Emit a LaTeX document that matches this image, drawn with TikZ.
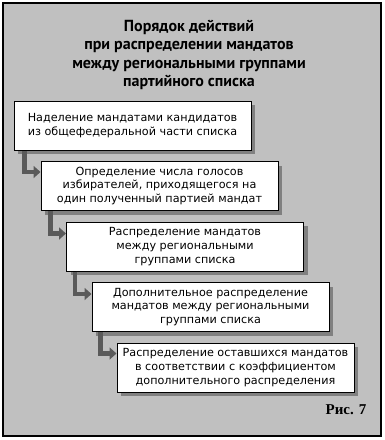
\documentclass[tikz,border=0pt]{standalone}
\usepackage{fontspec}
\setmainfont{DejaVu Sans}
\newfontfamily\titlefont{PT Sans}
\newfontfamily\figfont{Liberation Serif}
\usetikzlibrary{arrows.meta, shadows}
\definecolor{panelgray}{RGB}{192, 192, 192}
\definecolor{shadowgray}{RGB}{128, 128, 128}
\definecolor{arrowgray}{RGB}{90, 90, 90}

\begin{document}
\begin{tikzpicture}[
        x=1pt, y=-1pt,
        every node/.style={font=\fontsize{11.2}{13.8}\selectfont},
        stepbox/.style={draw, line width=1pt, fill=white, minimum width=237pt, minimum height=49pt,
            inner sep=0pt, align=center,
            drop shadow={shadow xshift=4pt, shadow yshift=-4pt, fill=shadowgray, opacity=1}},
        flow/.style={draw=arrowgray, line width=4.5pt, -{Triangle[length=7pt, width=12pt]}}
    ]
        \useasboundingbox (0,0) rectangle (384,440);
        \draw[line width=1.5pt, fill=panelgray] (3,3) rectangle (381,436);

        % title
        \node[align=center, font=\fontsize{16}{18.5}\titlefont\bfseries] (title) at (189,55)
            {Порядок действий\\при распределении мандатов\\между региональными группами\\партийного списка};

        % steps
        \node[stepbox] (s1) at (132.5,125.5) {Наделение мандатами кандидатов\\из общефедеральной части списка};
        \node[stepbox] (s2) at (159.5,186) {Определение числа голосов\\избирателей, приходящегося на\\один полученный партией мандат};
        \node[stepbox] (s3) at (185,246.5) {Распределение мандатов\\между региональными\\группами списка};
        \node[stepbox] (s4) at (210.5,307) {Дополнительное распределение\\мандатов между региональными\\группами списка};
        \node[stepbox] (s5) at (235.5,367.5) {Распределение оставшихся мандатов\\в соответствии с коэффициентом\\дополнительного распределения};

        % connectors
        \draw[flow] ([xshift=11pt]s1.south west) |- ([yshift=-11pt]s2.north west);
        \draw[flow] ([xshift=10pt]s2.south west) |- ([yshift=-12pt]s3.north west);
        \draw[flow] ([xshift=9pt]s3.south west) |- ([yshift=-12pt]s4.north west);
        \draw[flow] ([xshift=9pt]s4.south west) |- ([yshift=-11pt]s5.north west);

        \node[font=\fontsize{15}{18}\figfont\bfseries] (fig) at (346,410) {Рис. 7};
    \end{tikzpicture}
\end{document}
